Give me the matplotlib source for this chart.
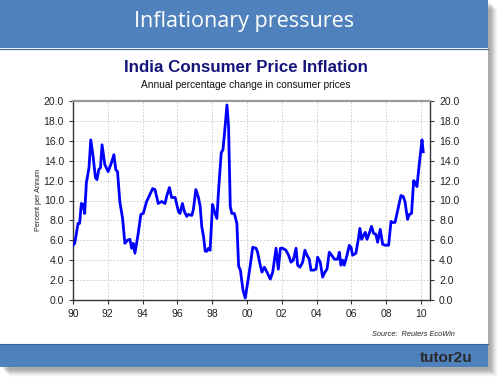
import matplotlib
matplotlib.use("Agg")
import matplotlib.pyplot as plt
from matplotlib.patches import Rectangle

years = [1990.00, 1990.10, 1990.29, 1990.38, 1990.48, 1990.58, 1990.67, 1990.77, 1990.92, 1991.02,
         1991.15, 1991.29, 1991.38, 1991.48, 1991.58, 1991.67, 1991.83, 1992.02, 1992.21, 1992.35,
         1992.46, 1992.56, 1992.69, 1992.85, 1992.98, 1993.13, 1993.27, 1993.37, 1993.46, 1993.56,
         1993.75, 1993.90, 1994.04, 1994.23, 1994.42, 1994.58, 1994.71, 1994.90, 1995.10, 1995.29,
         1995.38, 1995.54, 1995.67, 1995.87, 1996.06, 1996.15, 1996.29, 1996.40, 1996.54, 1996.63,
         1996.83, 1996.92, 1997.06, 1997.21, 1997.31, 1997.40, 1997.50, 1997.60, 1997.69, 1997.79,
         1997.88, 1998.02, 1998.13, 1998.27, 1998.37, 1998.52, 1998.62, 1998.71, 1998.85, 1998.94,
         1999.04, 1999.13, 1999.27, 1999.42, 1999.52, 1999.62, 1999.77, 1999.90, 2000.08, 2000.19,
         2000.33, 2000.52, 2000.61, 2000.75, 2000.86, 2001.00, 2001.15, 2001.34, 2001.48, 2001.67,
         2001.80, 2001.92, 2002.05, 2002.24, 2002.39, 2002.53, 2002.66, 2002.82, 2002.91, 2003.05,
         2003.20, 2003.33, 2003.45, 2003.58, 2003.68, 2003.83, 2003.97, 2004.06, 2004.21, 2004.35,
         2004.48, 2004.60, 2004.73, 2004.87, 2005.02, 2005.21, 2005.31, 2005.40, 2005.50, 2005.59,
         2005.75, 2005.88, 2005.98, 2006.07, 2006.26, 2006.40, 2006.49, 2006.59, 2006.70, 2006.80,
         2006.90, 2007.03, 2007.16, 2007.28, 2007.41, 2007.51, 2007.66, 2007.80, 2007.95, 2008.14,
         2008.28, 2008.37, 2008.51, 2008.66, 2008.85, 2008.98, 2009.08, 2009.23, 2009.33, 2009.46,
         2009.58, 2009.67, 2009.77, 2009.90, 2010.06, 2010.13]
cpi = [5.5, 5.7, 7.7, 7.7, 9.7, 9.6, 8.7, 11.8, 13.3, 16.1,
       14.5, 12.3, 12.1, 13.1, 13.3, 15.6, 13.6, 12.9, 13.8, 14.6,
       13.1, 12.9, 9.9, 8.2, 5.7, 6.0, 6.1, 5.2, 5.7, 4.7,
       6.7, 8.6, 8.7, 9.9, 10.6, 11.2, 11.1, 9.7, 9.9, 9.7,
       10.4, 11.3, 10.3, 10.3, 8.9, 8.7, 9.7, 8.9, 8.4, 8.6,
       8.5, 9.1, 11.1, 10.3, 9.4, 7.4, 6.4, 4.9, 4.9, 5.2,
       5.0, 9.6, 8.9, 8.2, 11.1, 14.8, 15.1, 16.8, 19.6, 17.5,
       9.4, 8.7, 8.7, 7.7, 3.4, 3.0, 1.0, 0.2, 2.2, 3.5,
       5.3, 5.2, 4.8, 3.6, 2.8, 3.3, 2.8, 2.1, 2.8, 5.2,
       3.1, 5.2, 5.2, 5.0, 4.5, 3.8, 4.0, 5.2, 3.5, 3.3,
       3.8, 5.0, 4.5, 4.1, 3.0, 3.0, 3.1, 4.3, 3.8, 2.3,
       2.8, 3.1, 4.8, 4.5, 4.1, 4.1, 4.8, 3.5, 4.0, 3.5,
       4.5, 5.5, 5.3, 4.5, 4.7, 6.1, 7.2, 6.1, 6.5, 6.8,
       6.1, 6.7, 7.4, 6.7, 6.6, 5.8, 7.1, 5.6, 5.5, 5.5,
       7.9, 7.8, 7.8, 9.0, 10.5, 10.4, 9.9, 8.1, 8.6, 8.7,
       12.0, 11.8, 11.4, 13.6, 16.1, 14.9]
assert len(years) == len(cpi)

x_ticks = [1990, 1992, 1994, 1996, 1998, 2000, 2002, 2004, 2006, 2008, 2010]
x_labels = ["90", "92", "94", "96", "98", "00", "02", "04", "06", "08", "10"]
y_ticks = [0, 2, 4, 6, 8, 10, 12, 14, 16, 18, 20]

W, H = 500, 379
fig = plt.figure(figsize=(W / 100, H / 100), dpi=100)
fig.patch.set_facecolor("white")

bg = fig.add_axes([0, 0, 1, 1])
bg.set_xlim(0, W)
bg.set_ylim(H, 0)
bg.axis("off")

# slide shadow
for i, a in enumerate([0.10, 0.10, 0.10, 0.09, 0.08, 0.06, 0.04, 0.03]):
    off = 1 + i
    bg.add_patch(Rectangle((off + 2, off + 2), 488, 367, facecolor="#000000",
                           alpha=a * 0.6, edgecolor="none", zorder=0))
bg.add_patch(Rectangle((0, 0), 488, 367, facecolor="white", edgecolor="none", zorder=1))
blue = "#4f81bd"
bg.add_patch(Rectangle((0, 0), 488, 48, facecolor=blue, edgecolor="none", zorder=2))
bg.plot([0, 488], [48.5, 48.5], color="#3a6398", lw=0.8, zorder=3)
bg.add_patch(Rectangle((0, 344), 488, 23, facecolor=blue, edgecolor="none", zorder=2))
bg.plot([0, 488], [344, 344], color="#3a6398", lw=0.8, zorder=3)

bg.text(244, 22, "Inflationary pressures", color="white", fontsize=15.5,
        family="Open Sans", ha="center", va="center", zorder=4)
bg.text(246, 68, "India Consumer Price Inflation", color="#14147a", fontsize=12.2,
        fontweight="bold", family="Liberation Sans", ha="center", va="center", zorder=4)
bg.text(246, 85, "Annual percentage change in consumer prices", color="#111111",
        fontsize=7.3, family="Liberation Sans", ha="center", va="center", zorder=4)
bg.text(38, 200, "Percent per Annum", color="#222222", fontsize=5.2,
        family="Liberation Sans", rotation=90, ha="center", va="center", zorder=4)
bg.text(455, 335, "Source:  Reuters EcoWin", color="#222222", fontsize=5.3,
        family="Liberation Sans", style="italic", ha="right", va="center", zorder=4)
bg.text(473, 358, "tutor2u", color="#2a2a2a", fontsize=11, fontweight="bold",
        family="Liberation Sans", ha="right", va="center", zorder=4)

ax = fig.add_axes([73 / W, 1 - 300 / H, (430 - 73) / W, (300 - 101) / H])
ax.plot(years, cpi, color="#0000ff", lw=2.0, solid_joinstyle="round", zorder=3)
ax.set_xlim(1990, 2010.52)
ax.set_ylim(0, 20)
ax.set_xticks(x_ticks)
ax.set_xticklabels(x_labels)
ax.set_yticks(y_ticks)
ax.set_yticklabels([f"{v:.1f}" for v in y_ticks])
ax.grid(True, color="#c8c8c8", linestyle=(0, (2, 2)), lw=0.6)
for s in ["left", "bottom", "right"]:
    ax.spines[s].set_color("#333333")
    ax.spines[s].set_linewidth(1.0)
ax.spines["top"].set_color("#999999")
ax.spines["top"].set_linewidth(1.6)
ax.tick_params(axis="both", labelsize=7.5, length=3, width=0.8, color="#333333",
               labelcolor="#222222", direction="out")
ax.tick_params(axis="y", right=True, labelright=True)
for lab in ax.get_xticklabels() + ax.get_yticklabels():
    lab.set_family("Liberation Sans")

fig.savefig("out.png", dpi=100)
